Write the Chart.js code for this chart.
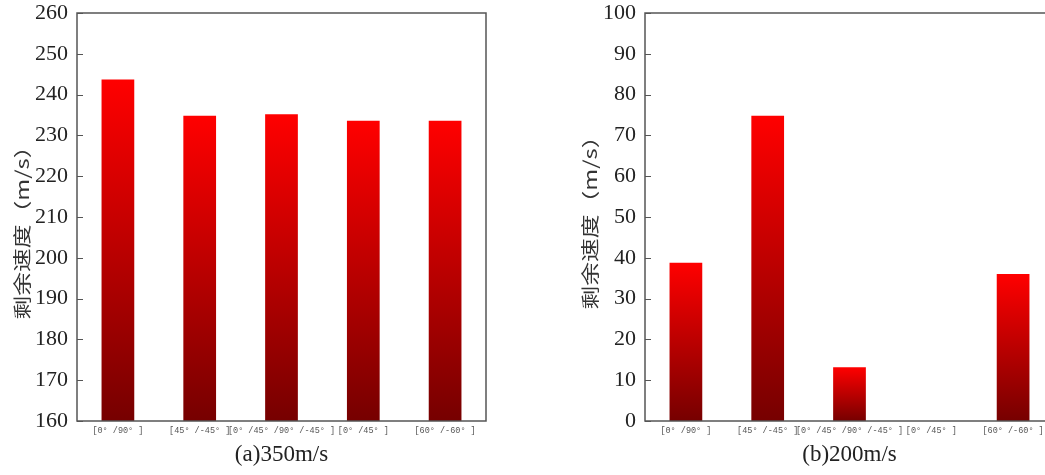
<!DOCTYPE html>
<html>
<head>
<meta charset="utf-8">
<script src="https://cdn.jsdelivr.net/npm/chart.js@4.4.1/dist/chart.umd.min.js"></script>
<style>
  html, body { margin: 0; padding: 0; background: #fff; overflow: hidden; }
  body { width: 1045px; height: 475px; position: relative; }
  .panel { position: absolute; top: 0; width: 500px; height: 475px; }
  #panelA { left: 0; }
  #panelB { left: 568px; }
</style>
</head>
<body>
<div class="panel" id="panelA"><canvas id="chartA"></canvas></div>
<div class="panel" id="panelB"><canvas id="chartB"></canvas></div>
<script>
// Ply layups tested
const categories = ['[0° /90° ]', '[45° /-45° ]', '[0° /45° /90° /-45° ]', '[0° /45° ]', '[60° /-60° ]'];

// Residual velocity (m/s) for each layup
const residual350 = [243.7, 234.8, 235.2, 233.6, 233.6];
const residual200 = [38.8, 74.8, 13.2, 0, 36.0];

// Y-axis ranges: [min, max, step]
const axis350 = [160, 260, 10];
const axis200 = [0, 100, 10];

const yAxisTitle = '剩余速度（m/s）';
const titleA = '(a)350m/s';
const titleB = '(b)200m/s';

const FRAME = '#555';
const TEXT = '#222';

// Vertical red-to-dark-red gradient per bar, from its top to the axis floor
function barGradient(ctx) {
  const chart = ctx.chart;
  if (!chart.chartArea || ctx.type !== 'data') return '#ff0000';
  const ys = chart.scales.y;
  const top = ys.getPixelForValue(ctx.raw);
  const bottom = ys.getPixelForValue(ys.min);
  if (bottom - top < 1) return '#7a0000';
  const g = chart.ctx.createLinearGradient(0, top, 0, bottom);
  g.addColorStop(0, '#ff0000');
  g.addColorStop(1, '#760000');
  return g;
}

// Box around the plot area, inward y ticks, and stretched rotated y title
const framePlugin = {
  id: 'frame',
  afterDatasetsDraw(chart, args, opts) {
    const { ctx, chartArea: a } = chart;
    const ys = chart.scales.y;
    ctx.save();
    ctx.strokeStyle = FRAME;
    ctx.lineWidth = 1.5;
    ctx.strokeRect(a.left, a.top, a.right - a.left, a.bottom - a.top);
    ctx.lineWidth = 1;
    ys.ticks.forEach((t, i) => {
      const y = Math.round(ys.getPixelForTick(i)) + 0.5;
      ctx.beginPath();
      ctx.moveTo(a.left, y);
      ctx.lineTo(a.left + 6, y);
      ctx.stroke();
    });
    ctx.restore();

    ctx.save();
    ctx.fillStyle = '#333';
    ctx.font = '18px "Noto Sans CJK SC", sans-serif';
    ctx.textAlign = 'center';
    ctx.textBaseline = 'middle';
    ctx.translate(opts.x, (a.top + a.bottom) / 2 + (opts.dy || 0));
    ctx.rotate(-Math.PI / 2);
    ctx.scale(1.32, 1);
    ctx.fillText(opts.text, 0, 0);
    ctx.restore();
  }
};

function makeChart(id, values, axis, title, titleDy) {
  return new Chart(document.getElementById(id), {
    type: 'bar',
    data: {
      labels: categories,
      datasets: [{
        data: values,
        backgroundColor: barGradient,
        borderWidth: 0,
        barPercentage: 0.4,
        categoryPercentage: 1.0
      }]
    },
    options: {
      responsive: true,
      maintainAspectRatio: false,
      animation: false,
      layout: { padding: { top: 13, right: 14, bottom: 0, left: 0 } },
      plugins: {
        legend: { display: false },
        tooltip: { enabled: false },
        frame: { text: yAxisTitle, x: 22, dy: titleDy }
      },
      scales: {
        x: {
          type: 'category',
          grid: { display: false, drawTicks: false },
          border: { display: false },
          ticks: {
            autoSkip: false,
            maxRotation: 0,
            minRotation: 0,
            padding: 5,
            color: '#555',
            font: { family: '"Liberation Mono", monospace', size: 8.5 }
          },
          title: {
            display: true,
            text: title,
            color: TEXT,
            font: { family: '"Liberation Serif", serif', size: 23 },
            padding: { top: 0, bottom: 6 }
          },
          afterFit(scale) { scale.height = 54; }
        },
        y: {
          min: axis[0],
          max: axis[1],
          grid: { display: false, drawTicks: false },
          border: { display: false },
          ticks: {
            stepSize: axis[2],
            padding: 9,
            color: TEXT,
            font: { family: '"Liberation Serif", serif', size: 22 }
          },
          afterFit(scale) {
            scale.width = 77;
            scale.paddingTop = 0;
            scale.paddingBottom = 0;
          }
        }
      }
    },
    plugins: [framePlugin]
  });
}

makeChart('chartA', residual350, axis350, titleA, 10);
makeChart('chartB', residual200, axis200, titleB, 0);
</script>
</body>
</html>
